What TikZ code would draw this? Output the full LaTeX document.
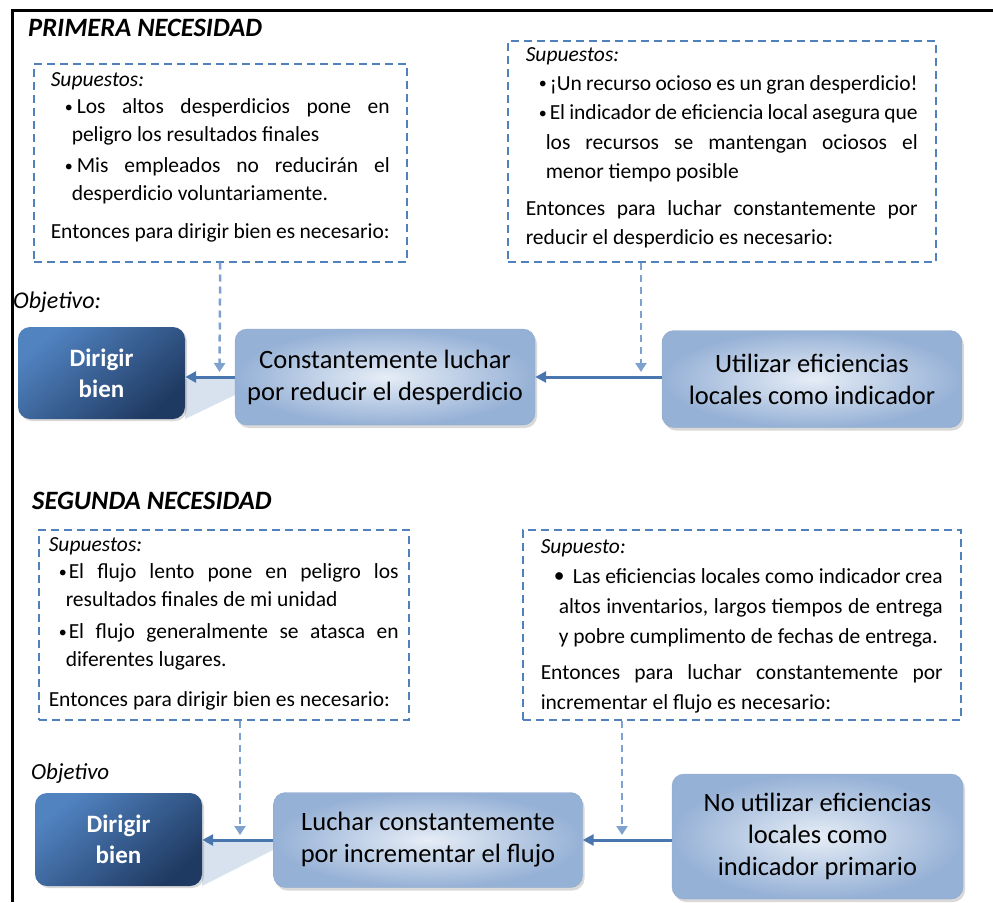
\documentclass[tikz,border=0pt]{standalone}
\usepackage{fontspec}
\setmainfont{Carlito}
\usepackage{tikz}
\usetikzlibrary{arrows.meta,shadows,positioning}

\definecolor{azulraya}{HTML}{4F81BD}
\definecolor{azulflecha}{HTML}{4A76B0}
\definecolor{azulpunteo}{HTML}{7FA1CD}
\definecolor{azulclaro}{HTML}{E6EDF6}
\definecolor{azulmedio}{HTML}{96B1D6}
\definecolor{azulborde}{HTML}{8DA8CD}
\definecolor{azulosc}{HTML}{5183C1}
\definecolor{azulnoche}{HTML}{1F3A62}
\definecolor{azulcuna}{HTML}{D8E2EF}

% shift, box width, bullet size
\newcommand{\punto}[3]{\noindent\hspace*{#1}\makebox[#2][l]{\raisebox{1.5pt}{\fontsize{#3}{#3}\selectfont\textbullet}}}

\begin{document}
\begin{tikzpicture}[x=1pt,y=-1pt,
    supuesto/.style={draw=azulraya,line width=1.5pt,dash pattern=on 8pt off 5pt,
      align=justify,anchor=north west,inner ysep=0pt,
      font=\fontsize{21.5}{28}\selectfont},
    objetivo/.style={rounded corners=12pt,top color=azulosc,bottom color=azulnoche,
      shading angle=40,text=white,align=center,
      font=\bfseries\fontsize{25}{31}\selectfont,
      drop shadow={shadow xshift=2pt,shadow yshift=-2pt,opacity=0.3}},
    accion/.style={rounded corners=12pt,draw=azulborde,inner color=azulclaro,
      outer color=azulmedio,align=center,font=\fontsize{26.5}{32}\selectfont,
      drop shadow={shadow xshift=2pt,shadow yshift=-3pt,opacity=0.3}},
    flecha/.style={draw=azulflecha,line width=3pt,-{Triangle[length=11pt,width=11pt]}},
    flechad/.style={draw=azulpunteo,line width=2.5pt,dash pattern=on 7pt off 5pt,
      -{Triangle[length=9pt,width=11pt]}},
    titulo/.style={anchor=west,inner sep=0pt,font=\bfseries\itshape\fontsize{26.5}{30}\selectfont},
    etiqueta/.style={anchor=west,inner sep=0pt,font=\itshape\fontsize{24}{28}\selectfont}]
  \useasboundingbox (0,0) rectangle (993,902);
  % frame
  \draw[line width=3pt] (12,902) -- (12,10) -- (993,10);

  % ---- primera necesidad ----
  \node[titulo] (tit1) at (28,28) {PRIMERA NECESIDAD};
  \node[supuesto,text width=339pt,inner xsep=17pt,text height=23pt,text depth=175pt]
    (sup1) at (33,63) {{\itshape Supuestos:}\par\vspace{-1pt}
    {\leftskip=21pt \punto{-7pt}{12pt}{16}Los altos desperdicios pone en\linebreak
      peligro los resultados finales\par}\vspace{3pt}
    {\leftskip=21pt \punto{-7pt}{12pt}{16}Mis empleados no reducirán el\linebreak
      desperdicio voluntariamente.\par}\vspace{10pt}
    Entonces para dirigir bien es necesario:};
  \node[supuesto,text width=392pt,inner xsep=18pt,text height=21pt,text depth=200pt,
    font=\fontsize{21.5}{29.5}\selectfont]
    (sup2) at (507,40) {{\itshape Supuestos:}\par\vspace{-1pt}
    {\leftskip=20pt \punto{-7pt}{11pt}{16}¡Un recurso ocioso es un gran desperdicio!\par}
    {\leftskip=20pt \punto{-7pt}{11pt}{16}El indicador de eficiencia local asegura que\linebreak
      los recursos se mantengan ociosos el\linebreak menor tiempo posible\par}\vspace{7pt}
    Entonces para luchar constantemente por\linebreak reducir el desperdicio es necesario:};

  \fill[azulcuna] (185,379) -- (235,379) -- (235,395) -- (185,419) -- cycle;
  \node[etiqueta] (obj1) at (13,302) {Objetivo:};
  \node[objetivo,minimum width=167pt,minimum height=92pt] (dirigir1) at (101.5,373) {Dirigir\\bien};
  \node[accion,minimum width=300pt,minimum height=96pt] (luchar1) at (385,377)
    {Constantemente luchar\\por reducir el desperdicio};
  \node[accion,minimum width=300pt,minimum height=97pt] (util1) at (812,379)
    {Utilizar eficiencias\\locales como indicador};

  \coordinate (meta1) at (219.5,372);
  \coordinate (meta2) at (641,372);
  \draw[flecha] (luchar1.west) -- (luchar1.west -| dirigir1.east);
  \draw[flecha] (util1.west |- luchar1.east) -- (luchar1.east);
  \draw[flechad] (sup1.south) -- (meta1);
  \draw[flechad] (sup2.south -| meta2) -- (meta2);

  % ---- segunda necesidad ----
  \node[titulo] (tit2) at (32,501) {SEGUNDA NECESIDAD};
  \node[supuesto,text width=350pt,inner xsep=10pt,text height=22pt,text depth=168pt]
    (sup3) at (38,529) {{\itshape Supuestos:}\par\vspace{-1pt}
    {\leftskip=17pt \punto{-7pt}{10pt}{16}El flujo lento pone en peligro los\linebreak
      resultados finales de mi unidad\par}\vspace{4pt}
    {\leftskip=17pt \punto{-7pt}{10pt}{16}El flujo generalmente se atasca en\linebreak
      diferentes lugares.\par}\vspace{12pt}
    Entonces para dirigir bien es necesario:};
  \node[supuesto,text width=402pt,inner xsep=18pt,text height=24pt,text depth=166pt,
    font=\fontsize{21.5}{30}\selectfont]
    (sup4) at (522,529) {{\itshape Supuesto:}\par
    {\leftskip=18pt \punto{-5pt}{19pt}{21.5}Las eficiencias locales como indicador crea\linebreak
      altos inventarios, largos tiempos de entrega\linebreak
      y pobre cumplimento de fechas de entrega.\par}\vspace{6pt}
    Entonces para luchar constantemente por\linebreak incrementar el flujo es necesario:};

  \fill[azulcuna] (202,842) -- (273,842) -- (273,850) -- (202,886) -- cycle;
  \node[etiqueta,font=\itshape\fontsize{23}{27}\selectfont] (obj2) at (31,773) {Objetivo};
  \node[objetivo,minimum width=167pt,minimum height=93pt] (dirigir2) at (118.5,839.5) {Dirigir\\bien};
  \node[accion,minimum width=309pt,minimum height=95pt] (luchar2) at (428,840)
    {Luchar constantemente\\por incrementar el flujo};
  \node[accion,minimum width=291pt,minimum height=125pt] (util2) at (817.5,836.5)
    {No utilizar eficiencias\\locales como\\indicador primario};

  \coordinate (meta3) at (240,835);
  \coordinate (meta4) at (622,835);
  \draw[flecha] (luchar2.west) -- (luchar2.west -| dirigir2.east);
  \draw[flecha] (util2.west |- luchar2.east) -- (luchar2.east);
  \draw[flechad] (sup3.south -| meta3) -- (meta3);
  \draw[flechad] (sup4.south -| meta4) -- (meta4);
\end{tikzpicture}
\end{document}
